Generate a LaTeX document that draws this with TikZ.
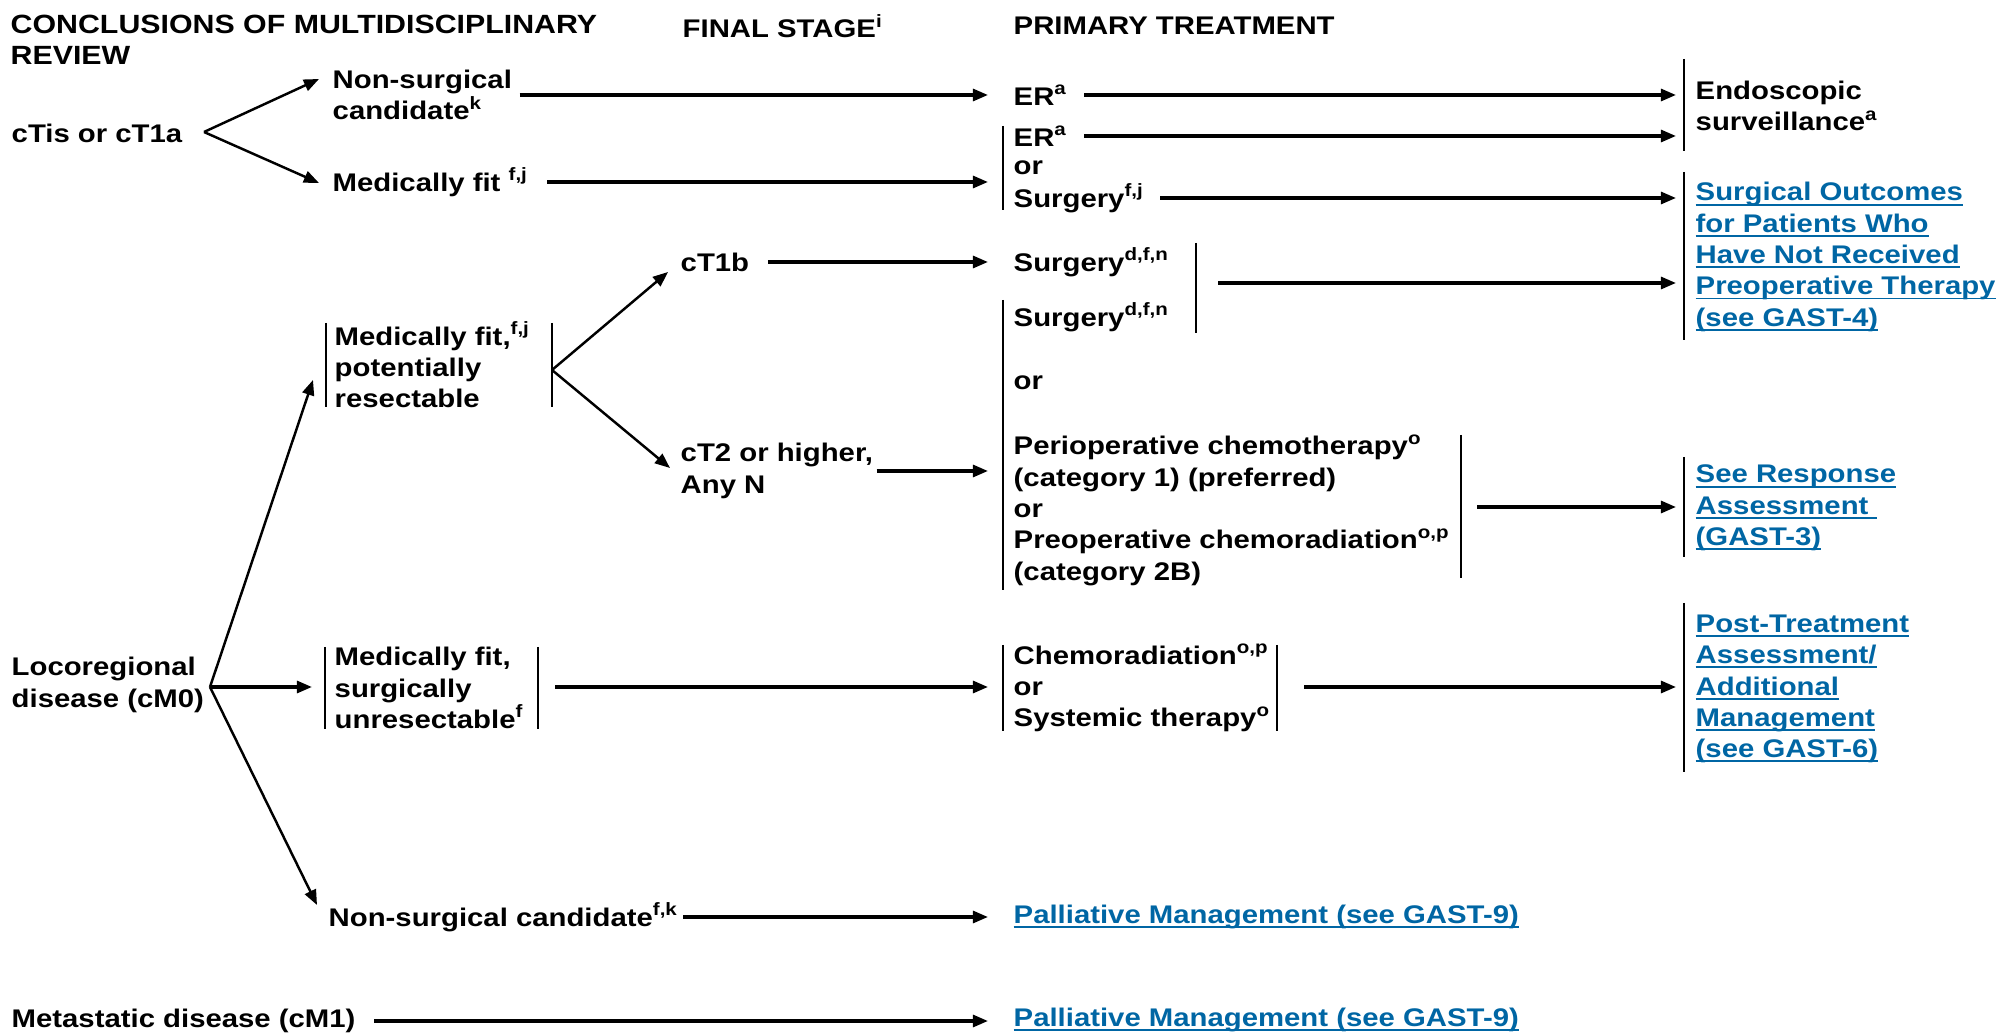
\documentclass[tikz,border=0pt]{standalone}
\usepackage{fontspec}
\setmainfont{Liberation Sans}[FakeStretch=1.15]
\usetikzlibrary{positioning,arrows.meta,calc}
\definecolor{linkblue}{RGB}{0,102,164}
\newsavebox\lnkbox
\newcommand\lnk[1]{\sbox\lnkbox{#1}\rlap{\rule[-1.3pt]{\wd\lnkbox}{0.55pt}}\usebox\lnkbox}
\tikzset{
    txt/.style={anchor=west, inner sep=0pt, align=left,
        font=\fontsize{7.25}{8.9}\selectfont\bfseries},
    link/.style={txt, text=linkblue},
    arr/.style={draw, ->, line width=0.9pt},
    slant/.style={draw, ->, line width=0.7pt},
    bar/.style={draw, line width=0.7pt},
}

\begin{document}
\begin{tikzpicture}[
    x=0.01cm, y=-0.01cm,
    >={Triangle[length=4.3pt,width=3.4pt]},
  ]
  \useasboundingbox (0,0) rectangle (1997,1034);

  \coordinate (in4) at (988,0);  % where arrows reach the treatment column
  \coordinate (in5) at (1676,0); % where arrows reach the last column

  % --------
  % Headings
  % --------
  \node[txt, font=\fontsize{7.5}{8.9}\selectfont\bfseries] (hrev) at (10,40)
    {CONCLUSIONS OF MULTIDISCIPLINARY\\REVIEW};
  \node[txt] (hstage) at (682,26) {FINAL STAGE\textsuperscript{i}};
  \node[txt] (htreat) at (1013,26) {PRIMARY TREATMENT};

  % first column
  \node[txt] (ctis) at (11,133) {cTis or cT1a};
  \node[txt] (loco) at (11,685) {Locoregional\\disease (cM0)};
  \node[txt] (meta) at (11,1021) {Metastatic disease (cM1)};

  % second column
  \node[txt] (nsc)  at (332,95)  {Non-surgical\\candidate\textsuperscript{k}};
  \node[txt] (mfit) at (332,182) {Medically fit \textsuperscript{f,j}};
  \node[txt] (mpr)  at (334,365) {Medically fit,\textsuperscript{f,j}\\potentially\\resectable};
  \node[txt] (mfs)  at (334,688) {Medically fit,\\surgically\\unresectable\textsuperscript{f}};
  \node[txt] (nsc2) at (328,917) {Non-surgical candidate\textsuperscript{f,k}};

  % final stage
  \node[txt] (ct1b) at (680,262) {cT1b};
  \node[txt] (ct2)  at (680,471) {cT2 or higher,\\Any N};

  % primary treatment
  \node[txt] (er1)   at (1013,95)  {ER\textsuperscript{a}};
  \node[txt] (er2)   at (1013,136) {ER\textsuperscript{a}};
  \node[txt] (or2)   at (1013,168) {or};
  \node[txt] (sfj)   at (1013,198) {Surgery\textsuperscript{f,j}};
  \node[txt] (surg1) at (1013,262) {Surgery\textsuperscript{d,f,n}};
  \node[txt] (surg2) at (1013,317) {Surgery\textsuperscript{d,f,n}};
  \node[txt] (or4)   at (1013,383) {or};
  \node[txt] (peri)  at (1013,510) {Perioperative chemotherapy\textsuperscript{o}\\(category 1) (preferred)\\or\\Preoperative chemoradiation\textsuperscript{o,p}\\(category 2B)};
  \node[txt] (chemo) at (1013,688) {Chemoradiation\textsuperscript{o,p}\\or\\Systemic therapy\textsuperscript{o}};
  \node[link] (pal1) at (1013,917) {\lnk{Palliative Management (see GAST-9)}};
  \node[link] (pal2) at (1013,1020) {\lnk{Palliative Management (see GAST-9)}};

  % last column
  \node[txt] (endo) at (1695,106) {Endoscopic\\surveillance\textsuperscript{a}};
  \node[link] (outc) at (1695,257) {\lnk{Surgical Outcomes}\\\lnk{for Patients Who}\\\lnk{Have Not Received}\\\lnk{Preoperative Therapy}\\\lnk{(see GAST-4)}};
  \node[link] (resp) at (1695,508) {\lnk{See Response}\\\lnk{Assessment\ }\\\lnk{(GAST-3)}};
  \node[link] (post) at (1695,689) {\lnk{Post-Treatment}\\\lnk{Assessment/}\\\lnk{Additional}\\\lnk{Management}\\\lnk{(see GAST-6)}};

  % --------
  % Brackets
  % --------
  \draw[bar] (1003,126) -- (1003,210);
  \draw[bar] (1684,59)  -- (1684,151);
  \draw[bar] (1684,172) -- (1684,340);
  \draw[bar] (1196,243) -- (1196,333);
  \draw[bar] (1003,300) -- (1003,590);
  \draw[bar] (1461,435) -- (1461,578);
  \draw[bar] (1684,457) -- (1684,557);
  \draw[bar] (1003,645) -- (1003,731);
  \draw[bar] (1277,645) -- (1277,731);
  \draw[bar] (1684,603) -- (1684,772);
  \draw[bar] (326,323)  -- (326,407);
  \draw[bar] (552,323)  -- (552,407);
  \draw[bar] (325,647)  -- (325,729);
  \draw[bar] (538,647)  -- (538,729);

  % branch points
  \coordinate (j-ctis)  at (204,132);
  \coordinate (j-loco)  at (210,687);
  \coordinate (j-mpr)   at (552,370);
  \coordinate (j-surg)  at (1218,283);
  \coordinate (j-peri)  at (1477,507);
  \coordinate (j-mfs)   at (555,687);
  \coordinate (j-chemo) at (1304,687);

  % ------
  % Arrows
  % ------
  \draw[slant] (j-ctis) -- ($(nsc.west)+(-13,-16)$);
  \draw[slant] (j-ctis) -- ($(mfit.west)+(-13,1)$);
  \draw[arr] ($(nsc.east)+(7,0)$)   -- (nsc.east -| in4);
  \draw[arr] ($(mfit.east)+(18,0)$) -- (mfit.east -| in4);
  \draw[arr] ($(er1.east)+(16,0)$)  -- (er1.east -| in5);
  \draw[arr] ($(er2.east)+(16,0)$)  -- (er2.east -| in5);
  \draw[arr] ($(sfj.east)+(15,0)$)  -- (sfj.east -| in5);

  \draw[slant] (j-mpr) -- ($(ct1b.west)+(-12,10)$);
  \draw[slant] (j-mpr) -- ($(ct2.west)+(-10,-3)$);
  \draw[arr] ($(ct1b.east)+(18,0)$) -- (ct1b.east -| in4);
  \draw[arr] ($(ct2.east)+(3,0)$)   -- (ct2.east -| in4);
  \draw[arr] (j-surg) -- (j-surg -| in5);
  \draw[arr] (j-peri) -- (j-peri -| in5);

  \draw[slant] (j-loco) -- ($(mpr.west)+(-21,15)$);
  \draw[arr]   (j-loco) -- ($(mfs.west)+(-22,-1)$);
  \draw[slant] (j-loco) -- ($(nsc2.west)+(-11,-12)$);
  \draw[arr] (j-mfs)   -- (j-mfs -| in4);
  \draw[arr] (j-chemo) -- (j-chemo -| in5);
  \draw[arr] ($(nsc2.east)+(4,0)$)  -- (nsc2.east -| in4);
  \draw[arr] ($(meta.east)+(18,0)$) -- (meta.east -| in4);

\end{tikzpicture}
\end{document}
